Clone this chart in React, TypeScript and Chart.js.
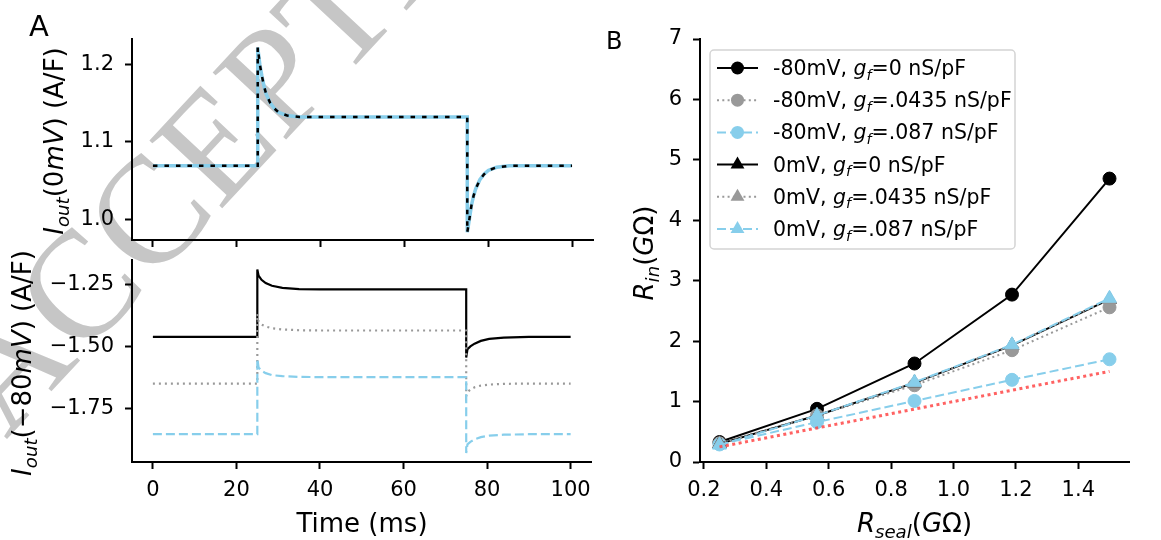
import React, { useEffect, useRef } from 'react';
import { Chart, registerables } from 'chart.js';

Chart.register(...registerables);

const FONT = '"DejaVu Sans"';

// ---------- Panel A data (time in ms, current in A/F) ----------
const timeTicks = [0, 20, 40, 60, 80, 100];
const timeTickLabels = ['0', '20', '40', '60', '80', '100'];

const topTime = [0, 25, 25, 25.5, 26, 26.5, 27, 28, 29, 30, 32, 35, 40, 75, 75, 75.5, 76, 76.5, 77, 78, 79, 80, 82, 85, 90, 100];
const top0mV = [1.069, 1.069, 1.222, 1.2, 1.185, 1.172, 1.162, 1.15, 1.143, 1.138, 1.134, 1.132, 1.132, 1.132, 0.983, 1.0, 1.018, 1.03, 1.039, 1.051, 1.058, 1.063, 1.067, 1.069, 1.069, 1.069];
const topYTicks = [1.0, 1.1, 1.2];
const topYTickLabels = ['1.0', '1.1', '1.2'];

const botTime = [0, 25, 25, 25.3, 26, 27, 28.5, 31, 35, 40, 75, 75, 75.3, 76, 77, 78.5, 80.5, 84, 90, 100];
const bot_g0 = [-1.462, -1.462, -1.19, -1.215, -1.232, -1.245, -1.256, -1.264, -1.269, -1.27, -1.27, -1.545, -1.512, -1.5, -1.489, -1.478, -1.47, -1.465, -1.462, -1.462];
const bot_g0435 = [-1.65, -1.65, -1.37, -1.4, -1.412, -1.42, -1.427, -1.432, -1.435, -1.436, -1.436, -1.7, -1.685, -1.674, -1.665, -1.658, -1.654, -1.651, -1.65, -1.65];
const bot_g087 = [-1.854, -1.854, -1.55, -1.585, -1.598, -1.608, -1.616, -1.62, -1.623, -1.624, -1.624, -1.93, -1.895, -1.885, -1.875, -1.866, -1.86, -1.856, -1.854, -1.854];
const botYTicks = [-1.75, -1.5, -1.25];
const botYTickLabels = ['\u22121.75', '\u22121.50', '\u22121.25'];

// ---------- Panel B data (G-ohm) ----------
const rSeal = [0.25, 0.5625, 0.875, 1.1875, 1.5];
const rin_m80_g0 = [0.33, 0.88, 1.63, 2.77, 4.69];
const rin_m80_g0435 = [0.31, 0.77, 1.27, 1.85, 2.56];
const rin_m80_g087 = [0.29, 0.66, 1.01, 1.36, 1.7];
const rin_0_g0 = [0.3, 0.77, 1.31, 1.93, 2.69];
const rin_0_g0435 = [0.3, 0.77, 1.31, 1.93, 2.69];
const rin_0_g087 = [0.28, 0.77, 1.32, 1.94, 2.71];
const rin_seal = [0.25, 0.5625, 0.875, 1.1875, 1.5];
const bXTicks = [0.2, 0.4, 0.6, 0.8, 1.0, 1.2, 1.4];
const bXTickLabels = ['0.2', '0.4', '0.6', '0.8', '1.0', '1.2', '1.4'];
const bYTicks = [0, 1, 2, 3, 4, 5, 6, 7];
const bYTickLabels = ['0', '1', '2', '3', '4', '5', '6', '7'];

const voltages = ['-80mV', '-80mV', '-80mV', '0mV', '0mV', '0mV'];
const gfValues = ['0', '.0435', '.087', '0', '.0435', '.087'];

const BLACK = '#000000';
const GRAY = '#999999';
const SKY = '#87ceeb';
const RED = 'rgba(255, 70, 70, 0.85)';

const TICK_SIZE = 21;
const LABEL_SIZE = 26;
const LEGEND_SIZE = 20.5;

type Seg = { t: string; it?: boolean; sub?: boolean };

function segFont(s: Seg, size: number) {
  return `${s.it ? 'italic ' : ''}${s.sub ? size * 0.7 : size}px ${FONT}`;
}
function richWidth(ctx: CanvasRenderingContext2D, segs: Seg[], size: number) {
  let w = 0;
  for (const s of segs) {
    ctx.font = segFont(s, size);
    w += ctx.measureText(s.t).width;
  }
  return w;
}
function drawRich(ctx: CanvasRenderingContext2D, segs: Seg[], x: number, y: number, size: number, align: 'left' | 'center', rot = false) {
  ctx.save();
  ctx.translate(x, y);
  if (rot) ctx.rotate(-Math.PI / 2);
  const w = richWidth(ctx, segs, size);
  let cx = align === 'center' ? -w / 2 : 0;
  ctx.textAlign = 'left';
  ctx.textBaseline = 'alphabetic';
  ctx.fillStyle = '#000';
  for (const s of segs) {
    ctx.font = segFont(s, size);
    ctx.fillText(s.t, cx, s.sub ? size * 0.22 : 0);
    cx += ctx.measureText(s.t).width;
  }
  ctx.restore();
}

function axisCommon(ticks: number[], labels: string[], showLabels: boolean, pad: number) {
  return {
    type: 'linear' as const,
    afterBuildTicks: (s: any) => {
      s.ticks = ticks.map((v) => ({ value: v }));
    },
    ticks: {
      display: showLabels,
      autoSkip: false,
      maxRotation: 0,
      padding: pad,
      color: '#000',
      font: { family: FONT, size: TICK_SIZE },
      callback: (_v: any, i: number) => labels[i],
    },
    grid: {
      drawOnChartArea: false,
      drawTicks: true,
      tickLength: 7,
      tickWidth: 2,
      tickColor: '#000',
      color: '#000',
    },
    border: { display: true, color: '#000', width: 2 },
  };
}

function pts(xs: number[], ys: number[]) {
  return xs.map((x, i) => ({ x, y: ys[i] }));
}

const TOP_YLABEL: Seg[] = [{ t: 'I', it: true }, { t: 'out', it: true, sub: true }, { t: '(0' }, { t: 'mV', it: true }, { t: ')' }, { t: ' (A/F)' }];
const BOT_YLABEL: Seg[] = [{ t: 'I', it: true }, { t: 'out', it: true, sub: true }, { t: '(\u221280' }, { t: 'mV', it: true }, { t: ')' }, { t: ' (A/F)' }];
const B_YLABEL: Seg[] = [{ t: 'R', it: true }, { t: 'in', it: true, sub: true }, { t: '(' }, { t: 'G', it: true }, { t: '\u03a9' }, { t: ')' }];
const B_XLABEL: Seg[] = [{ t: 'R', it: true }, { t: 'seal', it: true, sub: true }, { t: '(' }, { t: 'G', it: true }, { t: '\u03a9' }, { t: ')' }];

const baseOpts = {
  responsive: false,
  animation: false as const,
  devicePixelRatio: 1,
  events: [] as any[],
  plugins: { legend: { display: false }, tooltip: { enabled: false } },
  elements: { line: { tension: 0, borderCapStyle: 'butt' as const } },
};

export default function App() {
  const a1 = useRef<HTMLCanvasElement>(null);
  const a2 = useRef<HTMLCanvasElement>(null);
  const b = useRef<HTMLCanvasElement>(null);

  useEffect(() => {
    const charts: Chart[] = [];

    // ---- Panel A top ----
    charts.push(
      new Chart(a1.current!, {
        type: 'line',
        data: {
          datasets: [
            { label: '0mV, gf=0', data: pts(topTime, top0mV), borderColor: BLACK, borderWidth: 2.5, borderDash: [4.5, 7], pointRadius: 0, order: 0 },
            { label: '0mV, gf=.087', data: pts(topTime, top0mV), borderColor: SKY, borderWidth: 3.5, pointRadius: 0, order: 1 },
            { label: '0mV, gf=.0435', data: pts(topTime, top0mV), borderColor: GRAY, borderWidth: 2, borderDash: [2, 3], pointRadius: 0, order: 2 },
          ],
        },
        options: {
          ...baseOpts,
          layout: { padding: { left: 0, top: 39, right: 7, bottom: 290 } },
          scales: {
            x: { ...axisCommon(timeTicks, timeTickLabels, false, 9), min: -5, max: 105, afterFit: (s: any) => { s.height = 10; } },
            y: { ...axisCommon(topYTicks, topYTickLabels, true, 11), min: 0.973, max: 1.233, afterFit: (s: any) => { s.width = 132; } },
          },
        } as any,
        plugins: [
          {
            id: 'decoA1',
            beforeDraw(chart: any) {
              const ctx = chart.ctx as CanvasRenderingContext2D;
              ctx.save();
              ctx.translate(6, 440);
              ctx.rotate((-47 * Math.PI) / 180);
              ctx.font = '152px "Liberation Serif"';
              ctx.fillStyle = '#c6c6c6';
              ctx.textBaseline = 'alphabetic';
              ctx.fillText('ACCEPTED MANUSCRIPT', 0, 0);
              ctx.restore();
            },
            afterDraw(chart: any) {
              const ctx = chart.ctx as CanvasRenderingContext2D;
              drawRich(ctx, TOP_YLABEL, 63, 141, LABEL_SIZE, 'center', true);
              drawRich(ctx, [{ t: 'A' }], 29, 36, 29, 'left');
            },
          },
        ],
      })
    );

    // ---- Panel A bottom ----
    charts.push(
      new Chart(a2.current!, {
        type: 'line',
        data: {
          datasets: [
            { label: '-80mV, gf=0', data: pts(botTime, bot_g0), borderColor: BLACK, borderWidth: 2.2, pointRadius: 0, order: 2 },
            { label: '-80mV, gf=.0435', data: pts(botTime, bot_g0435), borderColor: GRAY, borderWidth: 2.2, borderDash: [2, 4], pointRadius: 0, order: 1 },
            { label: '-80mV, gf=.087', data: pts(botTime, bot_g087), borderColor: SKY, borderWidth: 2.2, borderDash: [9, 4], pointRadius: 0, order: 0 },
          ],
        },
        options: {
          ...baseOpts,
          layout: { padding: { left: 0, top: 260, right: 7, bottom: 0 } },
          scales: {
            x: { ...axisCommon(timeTicks, timeTickLabels, true, 9), min: -5, max: 105, afterFit: (s: any) => { s.height = 78; } },
            y: { ...axisCommon(botYTicks, botYTickLabels, true, 11), min: -1.966, max: -1.152, afterFit: (s: any) => { s.width = 132; } },
          },
        } as any,
        plugins: [
          {
            id: 'decoA2',
            afterDraw(chart: any) {
              const ctx = chart.ctx as CanvasRenderingContext2D;
              drawRich(ctx, BOT_YLABEL, 31, 363, LABEL_SIZE, 'center', true);
              drawRich(ctx, [{ t: 'Time (ms)' }], 362, 532, LABEL_SIZE, 'center');
            },
          },
        ],
      })
    );

    // ---- Panel B ----
    const bSeries = [
      { data: rin_m80_g0, color: BLACK, dash: [] as number[], style: 'circle', r: 6.5 },
      { data: rin_m80_g0435, color: GRAY, dash: [2, 3.3], style: 'circle', r: 6.5 },
      { data: rin_m80_g087, color: SKY, dash: [9, 4], style: 'circle', r: 6.5 },
      { data: rin_0_g0, color: BLACK, dash: [] as number[], style: 'triangle', r: 8 },
      { data: rin_0_g0435, color: GRAY, dash: [2, 3.3], style: 'triangle', r: 8 },
      { data: rin_0_g087, color: SKY, dash: [9, 4], style: 'triangle', r: 8 },
    ];
    const bDatasets: any[] = bSeries.map((s, i) => ({
      label: `${voltages[i]}, gf=${gfValues[i]} nS/pF`,
      data: pts(rSeal, s.data),
      borderColor: s.color,
      backgroundColor: s.color,
      borderWidth: 2,
      borderDash: s.dash,
      pointStyle: s.style,
      pointRadius: s.r,
      pointBackgroundColor: s.color,
      pointBorderColor: s.color,
      pointBorderWidth: 1,
      order: 20 - i,
    }));
    bDatasets.push({
      label: 'R_in = R_seal',
      data: pts(rSeal, rin_seal),
      borderColor: RED,
      borderWidth: 3,
      borderDash: [3, 3.5],
      pointRadius: 0,
      order: 0,
    });

    charts.push(
      new Chart(b.current!, {
        type: 'line',
        data: { datasets: bDatasets },
        options: {
          ...baseOpts,
          layout: { padding: { left: 0, top: 39, right: 32, bottom: 0 } },
          scales: {
            x: { ...axisCommon(bXTicks, bXTickLabels, true, 9), min: 0.1875, max: 1.5625, afterFit: (s: any) => { s.height = 78; } },
            y: { ...axisCommon(bYTicks, bYTickLabels, true, 11), min: 0, max: 7, afterFit: (s: any) => { s.width = 100; } },
          },
        } as any,
        plugins: [
          {
            id: 'decoB',
            afterDraw(chart: any) {
              const ctx = chart.ctx as CanvasRenderingContext2D;
              drawRich(ctx, B_YLABEL, 53, 253, LABEL_SIZE, 'center', true);
              drawRich(ctx, B_XLABEL, 314.5, 532, LABEL_SIZE, 'center');
              drawRich(ctx, [{ t: 'B' }], 6, 49, 24, 'left');

              // legend
              const bx = 110, by = 50, bw = 305, bh = 199;
              ctx.save();
              ctx.beginPath();
              (ctx as any).roundRect(bx, by, bw, bh, 4);
              ctx.fillStyle = 'rgba(255,255,255,0.8)';
              ctx.fill();
              ctx.strokeStyle = '#d4d4d4';
              ctx.lineWidth = 1.5;
              ctx.stroke();
              ctx.restore();
              bSeries.forEach((s, i) => {
                const cy = 68 + i * 32.2;
                ctx.save();
                ctx.strokeStyle = s.color;
                ctx.lineWidth = 2;
                ctx.setLineDash(s.dash);
                ctx.beginPath();
                ctx.moveTo(117, cy);
                ctx.lineTo(158, cy);
                ctx.stroke();
                ctx.setLineDash([]);
                ctx.fillStyle = s.color;
                ctx.beginPath();
                const mx = 137.5;
                if (s.style === 'circle') {
                  ctx.arc(mx, cy, s.r, 0, Math.PI * 2);
                } else {
                  const r = s.r;
                  ctx.moveTo(mx, cy - r);
                  ctx.lineTo(mx + r * 0.866, cy + r * 0.5);
                  ctx.lineTo(mx - r * 0.866, cy + r * 0.5);
                  ctx.closePath();
                }
                ctx.fill();
                ctx.restore();
                drawRich(
                  ctx,
                  [{ t: `${voltages[i]}, ` }, { t: 'g', it: true }, { t: 'f', it: true, sub: true }, { t: `=${gfValues[i]} nS/pF` }],
                  173,
                  cy + 7,
                  LEGEND_SIZE,
                  'left'
                );
              });
            },
          },
        ],
      })
    );

    return () => charts.forEach((c) => c.destroy());
  }, []);

  return (
    <div style={{ position: 'absolute', left: 0, top: 0, width: 1161, height: 540, background: '#fff', overflow: 'hidden' }}>
      <canvas ref={a1} width={600} height={540} style={{ position: 'absolute', left: 0, top: 0 }} />
      <canvas ref={a2} width={600} height={540} style={{ position: 'absolute', left: 0, top: 0 }} />
      <canvas ref={b} width={561} height={540} style={{ position: 'absolute', left: 600, top: 0 }} />
    </div>
  );
}
